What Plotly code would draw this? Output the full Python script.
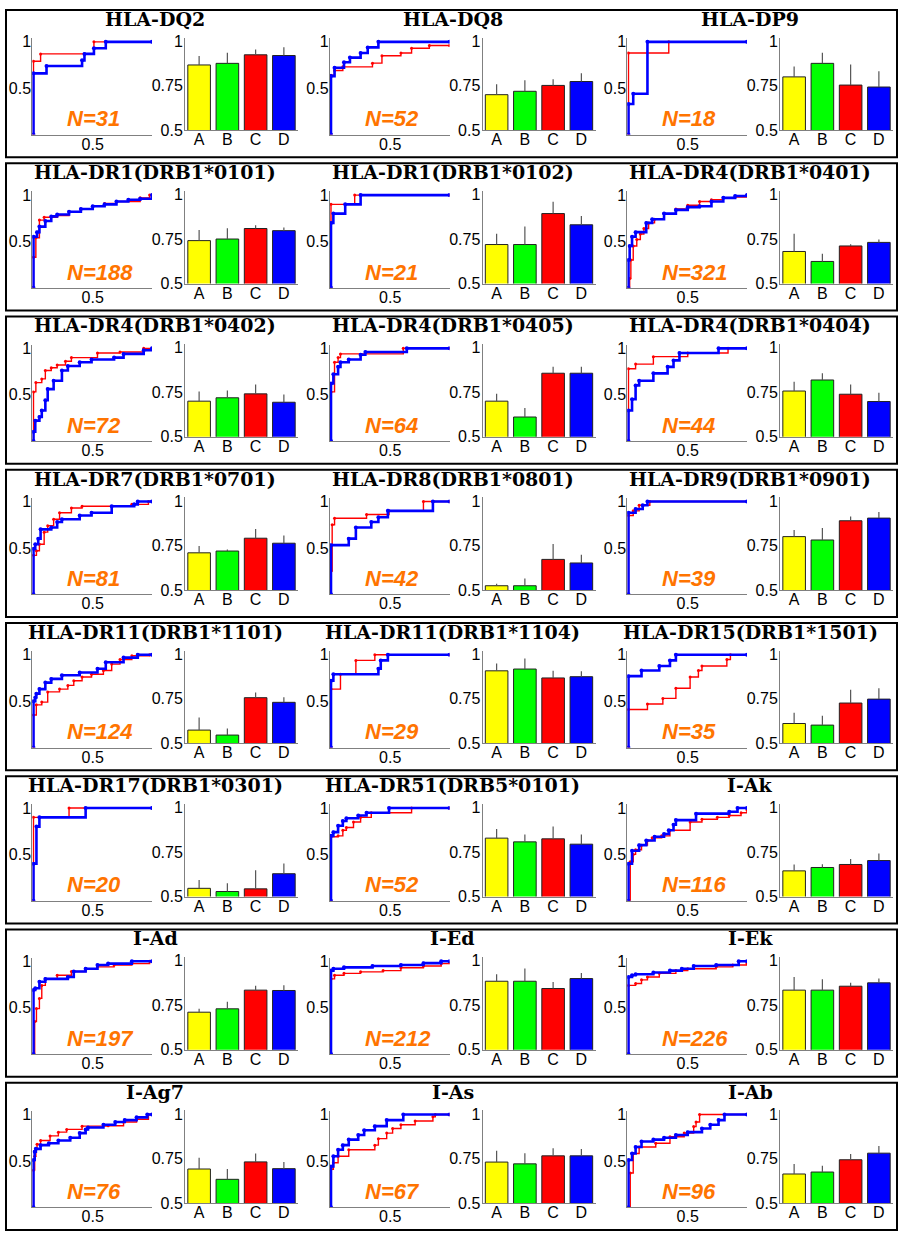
import plotly.graph_objects as go

W, H = 899, 1238

titles = ["HLA-DQ2", "HLA-DQ8", "HLA-DP9",
          "HLA-DR1(DRB1*0101)", "HLA-DR1(DRB1*0102)", "HLA-DR4(DRB1*0401)",
          "HLA-DR4(DRB1*0402)", "HLA-DR4(DRB1*0405)", "HLA-DR4(DRB1*0404)",
          "HLA-DR7(DRB1*0701)", "HLA-DR8(DRB1*0801)", "HLA-DR9(DRB1*0901)",
          "HLA-DR11(DRB1*1101)", "HLA-DR11(DRB1*1104)", "HLA-DR15(DRB1*1501)",
          "HLA-DR17(DRB1*0301)", "HLA-DR51(DRB5*0101)", "I-Ak",
          "I-Ad", "I-Ed", "I-Ek",
          "I-Ag7", "I-As", "I-Ab"]

n_counts = [31, 52, 18, 188, 21, 321, 72, 64, 44, 81, 42, 39,
            124, 29, 35, 20, 52, 116, 197, 212, 226, 76, 67, 96]

bar_categories = ["A", "B", "C", "D"]

bar_values = [
    [0.867, 0.876, 0.924, 0.920], [0.700, 0.719, 0.752, 0.774], [0.800, 0.876, 0.754, 0.743],
    [0.741, 0.750, 0.809, 0.797], [0.719, 0.719, 0.893, 0.830], [0.680, 0.624, 0.711, 0.731],
    [0.700, 0.719, 0.741, 0.694], [0.700, 0.611, 0.857, 0.857], [0.757, 0.819, 0.739, 0.698],
    [0.709, 0.719, 0.791, 0.763], [0.524, 0.524, 0.672, 0.652], [0.800, 0.781, 0.889, 0.904],
    [0.574, 0.546, 0.756, 0.730], [0.907, 0.917, 0.867, 0.874], [0.611, 0.602, 0.726, 0.748],
    [0.546, 0.528, 0.543, 0.628], [0.828, 0.807, 0.824, 0.794], [0.644, 0.663, 0.680, 0.702],
    [0.711, 0.730, 0.835, 0.833], [0.885, 0.885, 0.844, 0.900], [0.835, 0.835, 0.857, 0.876],
    [0.691, 0.633, 0.731, 0.693], [0.730, 0.720, 0.765, 0.765], [0.663, 0.674, 0.743, 0.780],
]

bar_errors = [
    [0.050, 0.059, 0.030, 0.047], [0.059, 0.062, 0.035, 0.046], [0.059, 0.059, 0.116, 0.089],
    [0.059, 0.060, 0.019, 0.018], [0.061, 0.101, 0.067, 0.050], [0.100, 0.043, 0.009, 0.017],
    [0.054, 0.041, 0.052, 0.043], [0.041, 0.050, 0.036, 0.036], [0.052, 0.038, 0.054, 0.050],
    [0.039, 0.009, 0.052, 0.043], [0.011, 0.041, 0.087, 0.046], [0.037, 0.067, 0.024, 0.035],
    [0.070, 0.037, 0.029, 0.029], [0.041, 0.059, 0.040, 0.030], [0.061, 0.052, 0.074, 0.061],
    [0.047, 0.046, 0.105, 0.057], [0.052, 0.041, 0.069, 0.054], [0.036, 0.018, 0.031, 0.039],
    [0.019, 0.040, 0.024, 0.030], [0.039, 0.071, 0.037, 0.031], [0.074, 0.061, 0.019, 0.024],
    [0.063, 0.058, 0.047, 0.038], [0.063, 0.060, 0.042, 0.039], [0.056, 0.035, 0.033, 0.040],
]

# ROC curves: (false positive rate, true positive rate) at each step
red_roc = [
    [(0, 0), (0, 0.79), (0.06, 0.87), (0.51, 1.0), (1, 1)],
    [(0, 0), (0, 0.64), (0.03, 0.69), (0.10, 0.73), (0.35, 0.77), (0.43, 0.85), (0.59, 0.88), (0.68, 0.93), (0.83, 0.96), (1, 0.96)],
    [(0, 0), (0, 0.88), (0.34, 1.0), (1, 1)],
    [(0, 0), (0, 0.33), (0.02, 0.54), (0.05, 0.73), (0.09, 0.76), (0.20, 0.78), (0.30, 0.82), (0.40, 0.85), (0.50, 0.88), (0.60, 0.91), (0.70, 0.93), (0.90, 0.97), (0.98, 1.0), (1, 1)],
    [(0, 0), (0, 0.90), (0.20, 1.0), (1, 1)],
    [(0, 0), (0.01, 0.10), (0.02, 0.30), (0.04, 0.45), (0.07, 0.52), (0.10, 0.58), (0.13, 0.64), (0.17, 0.70), (0.22, 0.74), (0.30, 0.80), (0.40, 0.85), (0.50, 0.89), (0.60, 0.93), (0.70, 0.95), (0.80, 0.97), (0.90, 0.98), (1, 1.0)],
    [(0, 0), (0, 0.53), (0.02, 0.63), (0.07, 0.67), (0.10, 0.76), (0.15, 0.79), (0.20, 0.82), (0.27, 0.86), (0.32, 0.90), (0.54, 0.95), (0.73, 0.96), (0.93, 1.0), (1, 1)],
    [(0, 0), (0, 0.53), (0.03, 0.85), (0.06, 0.90), (0.08, 0.94), (0.61, 1.0), (1, 1)],
    [(0, 0), (0, 0.78), (0.06, 0.83), (0.21, 0.91), (0.50, 0.95), (0.84, 1.0), (1, 1)],
    [(0, 0), (0, 0.42), (0.025, 0.47), (0.05, 0.54), (0.09, 0.67), (0.12, 0.74), (0.17, 0.81), (0.22, 0.88), (0.32, 0.93), (0.41, 0.95), (0.83, 0.97), (0.97, 1.0), (1, 1)],
    [(0, 0), (0, 0.25), (0.01, 0.75), (0.03, 0.82), (0.30, 0.86), (0.49, 0.90), (0.78, 1.0), (1, 1)],
    [(0, 0), (0, 0.85), (0.04, 0.90), (0.09, 0.96), (0.18, 1.0), (1, 1)],
    [(0, 0), (0, 0.35), (0.024, 0.46), (0.07, 0.49), (0.12, 0.60), (0.22, 0.63), (0.29, 0.67), (0.34, 0.72), (0.41, 0.76), (0.49, 0.79), (0.59, 0.83), (0.66, 0.90), (0.73, 0.95), (0.83, 0.99), (0.98, 1.0), (1, 1)],
    [(0, 0), (0, 0.63), (0.08, 0.79), (0.21, 0.94), (0.37, 1.0), (1, 1)],
    [(0, 0), (0, 0.41), (0.16, 0.47), (0.29, 0.53), (0.40, 0.64), (0.52, 0.76), (0.59, 0.83), (0.62, 0.88), (0.83, 0.95), (0.86, 1.0), (1, 1)],
    [(0, 0), (0, 0.90), (0.30, 1.0), (1, 1)],
    [(0, 0), (0, 0.69), (0.06, 0.70), (0.10, 0.76), (0.13, 0.79), (0.19, 0.85), (0.25, 0.90), (0.34, 0.95), (0.68, 1.0), (1, 1)],
    [(0, 0), (0.015, 0.42), (0.04, 0.50), (0.06, 0.55), (0.11, 0.60), (0.16, 0.65), (0.20, 0.68), (0.28, 0.70), (0.35, 0.76), (0.52, 0.85), (0.62, 0.88), (0.75, 0.90), (0.85, 0.92), (0.95, 0.95), (1, 0.98)],
    [(0, 0), (0.01, 0.35), (0.025, 0.49), (0.05, 0.60), (0.07, 0.74), (0.10, 0.81), (0.20, 0.85), (0.32, 0.89), (0.44, 0.92), (0.54, 0.94), (0.68, 0.96), (0.83, 0.975), (0.98, 1.0), (1, 1)],
    [(0, 0), (0, 0.81), (0.03, 0.85), (0.11, 0.87), (0.25, 0.886), (0.44, 0.90), (0.59, 0.93), (0.78, 0.95), (0.93, 0.975), (1, 0.985)],
    [(0, 0), (0, 0.74), (0.06, 0.76), (0.11, 0.80), (0.16, 0.83), (0.26, 0.87), (0.40, 0.90), (0.50, 0.92), (0.74, 0.94), (0.88, 0.96), (1, 0.975)],
    [(0, 0), (0, 0.40), (0.01, 0.55), (0.02, 0.63), (0.03, 0.68), (0.06, 0.72), (0.14, 0.77), (0.21, 0.81), (0.28, 0.84), (0.41, 0.875), (0.63, 0.88), (0.76, 0.92), (0.87, 0.95), (0.97, 1.0), (1, 1)],
    [(0, 0), (0, 0.41), (0.02, 0.48), (0.06, 0.55), (0.15, 0.62), (0.37, 0.67), (0.40, 0.74), (0.47, 0.80), (0.52, 0.85), (0.59, 0.89), (0.71, 0.93), (0.86, 0.975), (0.88, 1.0), (1, 1)],
    [(0, 0), (0.015, 0.37), (0.04, 0.58), (0.09, 0.65), (0.23, 0.69), (0.35, 0.76), (0.47, 0.80), (0.55, 0.87), (0.57, 0.92), (0.60, 1.0), (1, 1)],
]

blue_roc = [
    [(0, 0), (0, 0.66), (0.11, 0.74), (0.41, 0.80), (0.43, 0.87), (0.51, 0.93), (0.61, 1.0), (1, 1)],
    [(0, 0), (0, 0.63), (0.03, 0.72), (0.11, 0.78), (0.16, 0.83), (0.25, 0.88), (0.31, 0.94), (0.40, 1.0), (1, 1)],
    [(0, 0), (0, 0.33), (0.04, 0.44), (0.16, 1.0), (1, 1)],
    [(0, 0), (0, 0.55), (0.03, 0.60), (0.05, 0.66), (0.10, 0.72), (0.15, 0.77), (0.20, 0.79), (0.30, 0.82), (0.40, 0.85), (0.50, 0.88), (0.60, 0.90), (0.70, 0.93), (0.80, 0.95), (0.90, 0.96), (1, 1.0)],
    [(0, 0), (0, 0.70), (0.02, 0.80), (0.12, 0.90), (0.25, 1.0), (1, 1)],
    [(0, 0), (0, 0.30), (0.01, 0.45), (0.03, 0.55), (0.06, 0.60), (0.15, 0.70), (0.20, 0.74), (0.30, 0.80), (0.40, 0.84), (0.50, 0.87), (0.60, 0.88), (0.70, 0.93), (0.80, 0.97), (0.90, 0.99), (1, 1)],
    [(0, 0), (0, 0.10), (0.015, 0.22), (0.05, 0.26), (0.07, 0.33), (0.10, 0.44), (0.12, 0.56), (0.17, 0.65), (0.24, 0.76), (0.29, 0.81), (0.39, 0.85), (0.49, 0.88), (0.68, 0.90), (0.76, 0.94), (0.93, 0.98), (1, 1)],
    [(0, 0), (0, 0.62), (0.02, 0.72), (0.06, 0.80), (0.08, 0.85), (0.15, 0.88), (0.25, 0.93), (0.29, 0.96), (0.64, 1.0), (1, 1)],
    [(0, 0), (0, 0.33), (0.03, 0.45), (0.06, 0.60), (0.09, 0.65), (0.21, 0.73), (0.33, 0.80), (0.38, 0.87), (0.43, 0.95), (0.76, 1.0), (1, 1)],
    [(0, 0), (0, 0.49), (0.015, 0.54), (0.04, 0.60), (0.06, 0.70), (0.15, 0.72), (0.20, 0.78), (0.24, 0.81), (0.39, 0.85), (0.49, 0.88), (0.66, 0.95), (0.85, 0.97), (0.88, 1.0), (1, 1)],
    [(0, 0), (0, 0.53), (0.15, 0.60), (0.21, 0.72), (0.34, 0.78), (0.40, 0.83), (0.48, 0.90), (0.86, 1.0), (1, 1)],
    [(0, 0), (0, 0.88), (0.06, 0.92), (0.12, 0.96), (0.16, 1.0), (1, 1)],
    [(0, 0), (0, 0.50), (0.015, 0.54), (0.024, 0.58), (0.05, 0.63), (0.10, 0.70), (0.15, 0.74), (0.24, 0.78), (0.39, 0.81), (0.54, 0.85), (0.61, 0.92), (0.76, 0.97), (0.88, 1.0), (1, 1)],
    [(0, 0), (0, 0.72), (0.02, 0.79), (0.40, 0.85), (0.42, 0.94), (0.48, 1.0), (1, 1)],
    [(0, 0), (0, 0.77), (0.11, 0.83), (0.26, 0.88), (0.35, 0.94), (0.40, 1.0), (1, 1)],
    [(0, 0), (0, 0.40), (0.025, 0.80), (0.05, 0.90), (0.44, 1.0), (1, 1)],
    [(0, 0), (0, 0.70), (0.02, 0.74), (0.06, 0.81), (0.10, 0.86), (0.13, 0.89), (0.23, 0.92), (0.30, 0.95), (0.49, 1.0), (1, 1)],
    [(0, 0), (0, 0.40), (0.03, 0.54), (0.09, 0.60), (0.15, 0.65), (0.22, 0.69), (0.30, 0.72), (0.34, 0.76), (0.38, 0.82), (0.40, 0.87), (0.57, 0.94), (0.85, 0.96), (0.92, 1.0), (1, 1)],
    [(0, 0), (0, 0.69), (0.015, 0.71), (0.05, 0.78), (0.10, 0.81), (0.29, 0.83), (0.34, 0.89), (0.44, 0.92), (0.54, 0.96), (0.63, 0.975), (0.83, 1.0), (1, 1)],
    [(0, 0), (0, 0.90), (0.02, 0.92), (0.11, 0.935), (0.35, 0.95), (0.59, 0.96), (0.78, 0.98), (0.93, 1.0), (1, 1)],
    [(0, 0), (0, 0.83), (0.03, 0.85), (0.06, 0.86), (0.21, 0.88), (0.35, 0.90), (0.45, 0.92), (0.55, 0.95), (0.74, 0.96), (0.93, 1.0), (1, 1)],
    [(0, 0), (0, 0.51), (0.01, 0.60), (0.02, 0.63), (0.06, 0.67), (0.13, 0.69), (0.21, 0.72), (0.31, 0.75), (0.39, 0.80), (0.44, 0.84), (0.46, 0.86), (0.59, 0.89), (0.69, 0.92), (0.77, 0.94), (0.87, 0.97), (0.96, 1.0), (1, 1)],
    [(0, 0), (0, 0.44), (0.02, 0.55), (0.06, 0.62), (0.10, 0.67), (0.15, 0.73), (0.23, 0.78), (0.28, 0.83), (0.37, 0.875), (0.47, 0.94), (0.61, 1.0), (1, 1)],
    [(0, 0), (0, 0.51), (0.03, 0.58), (0.06, 0.65), (0.11, 0.71), (0.21, 0.73), (0.30, 0.75), (0.40, 0.78), (0.50, 0.81), (0.62, 0.85), (0.69, 0.89), (0.76, 0.94), (0.81, 1.0), (1, 1)],
]

bar_colors = ["#ffff00", "#00ff00", "#ff0000", "#0000ff"]
AX_GRAY = "#808080"
TICK_FONT = dict(family="Liberation Sans, Arial, sans-serif", size=16, color="black")


def fx(px):
    return px / W


def fy(py):
    return 1 - py / H


fig = go.Figure()
layout = {}
annotations = []
shapes = []

for k in range(len(titles)):
    i, j = divmod(k, 3)
    T = 5 + 155 * i
    ox = 297.5 * j
    ar, ab = 2 * k + 1, 2 * k + 2
    xr = "x" if ar == 1 else f"x{ar}"
    yr = "y" if ar == 1 else f"y{ar}"
    xb, yb = f"x{ab}", f"y{ab}"

    # ROC axes
    layout["xaxis" if ar == 1 else f"xaxis{ar}"] = dict(
        domain=[fx(32.3 + ox), fx(152 + ox)], range=[-0.01, 1.0], anchor=yr,
        showline=True, linecolor=AX_GRAY, linewidth=1, showgrid=False, zeroline=False,
        tickvals=[0.5], ticktext=["0.5"], ticks="", tickfont=TICK_FONT, ticklabelstandoff=-5,
        fixedrange=True)
    layout["yaxis" if ar == 1 else f"yaxis{ar}"] = dict(
        domain=[fy(T + 126), fy(T + 28.5)], range=[0, 1.04], anchor=xr,
        showline=True, linecolor=AX_GRAY, linewidth=1, showgrid=False, zeroline=False,
        tickvals=[0.5, 1], ticktext=["0.5", "1"], ticks="", tickfont=TICK_FONT, ticklabelstandoff=-3,
        fixedrange=True)
    # Bar axes
    layout[f"xaxis{ab}"] = dict(
        domain=[fx(185 + ox), fx(298 + ox)], range=[0.5, 4.5], anchor=yb,
        showline=True, linecolor=AX_GRAY, linewidth=1, showgrid=False, zeroline=False,
        tickvals=[1, 2, 3, 4], ticktext=bar_categories, ticks="", tickfont=TICK_FONT, ticklabelstandoff=-5,
        fixedrange=True)
    layout[f"yaxis{ab}"] = dict(
        domain=[fy(T + 121.7), fy(T + 28.1)], range=[0.5, 1.02], anchor=xb,
        showline=True, linecolor=AX_GRAY, linewidth=1, showgrid=False, zeroline=False,
        tickvals=[0.5, 0.75, 1], ticktext=["0.5", "0.75", "1"], ticks="", tickfont=TICK_FONT,
        ticklabelstandoff=-2, fixedrange=True)

    rx, ry = zip(*red_roc[k])
    bx, by = zip(*blue_roc[k])
    fig.add_trace(go.Scatter(x=rx, y=ry, mode="lines+markers", line=dict(color="#ff0000", width=1.4, shape="hv"),
                             marker=dict(size=3, color="#ff0000"), xaxis=xr, yaxis=yr, showlegend=False))
    fig.add_trace(go.Scatter(x=bx, y=by, mode="lines+markers", line=dict(color="#0000ff", width=2.6, shape="hv"),
                             marker=dict(size=4, color="#0000ff"), xaxis=xr, yaxis=yr, showlegend=False))
    fig.add_trace(go.Bar(x=[1, 2, 3, 4], y=bar_values[k], width=0.8,
                         marker=dict(color=bar_colors, line=dict(color="#222222", width=1)),
                         error_y=dict(type="data", array=bar_errors[k], arrayminus=[0, 0, 0, 0], symmetric=False,
                                      width=0, thickness=1.2, color="#555555"),
                         xaxis=xb, yaxis=yb, showlegend=False))

    annotations.append(dict(text=titles[k], xref="paper", yref="paper", x=fx(155 + ox), y=fy(T + 9),
                            xanchor="center", yanchor="middle", showarrow=False,
                            font=dict(family="DejaVu Serif, serif", size=19, color="black", weight="bold")))
    annotations.append(dict(text=f"N={n_counts[k]}", xref=xr, yref=yr, x=0.27, y=0.17,
                            xanchor="left", yanchor="middle", showarrow=False,
                            font=dict(family="Liberation Sans, Arial, sans-serif", size=22, color="#ff7400",
                                      weight="bold", style="italic")))

for i in range(8):
    T = 5 + 155 * i
    shapes.append(dict(type="rect", xref="paper", yref="paper", x0=fx(6), x1=fx(897),
                       y0=fy(T + 149), y1=fy(T), line=dict(color="black", width=2), fillcolor="rgba(0,0,0,0)"))

fig.update_layout(width=W, height=H, margin=dict(l=0, r=0, t=0, b=0), autosize=False,
                  paper_bgcolor="white", plot_bgcolor="white", showlegend=False, bargap=0.2,
                  annotations=annotations, shapes=shapes, **layout)

page_fix = (
    "document.documentElement.style.margin='0';document.documentElement.style.padding='0';"
    "document.documentElement.style.overflow='hidden';"
    "document.body.style.margin='0';document.body.style.padding='0';document.body.style.overflow='hidden';"
    "var gd=document.getElementsByClassName('plotly-graph-div')[0];"
    "gd.style.position='absolute';gd.style.left='0px';gd.style.top='0px';"
)

fig.write_html("out.html", config={"displayModeBar": False, "staticPlot": True}, post_script=page_fix)
